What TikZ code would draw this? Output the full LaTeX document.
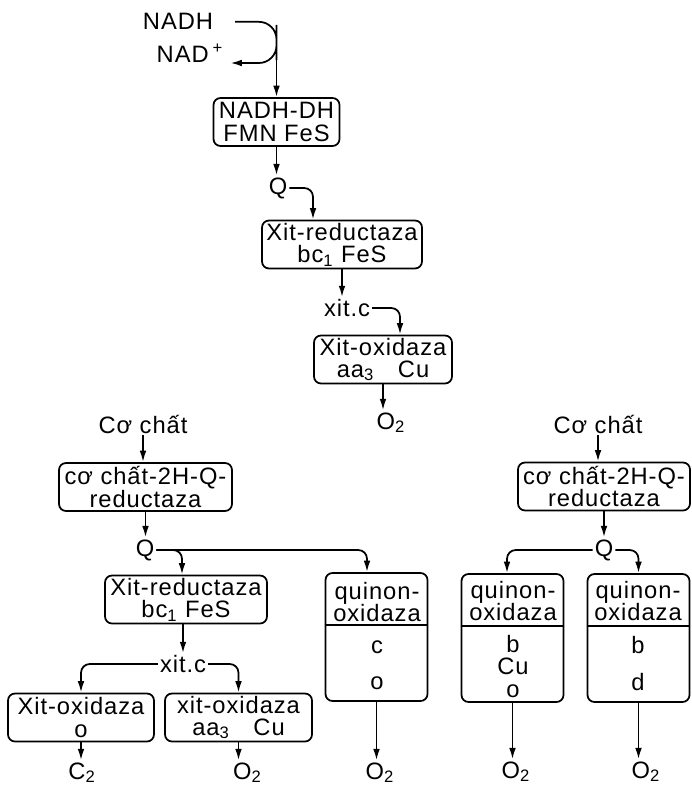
\documentclass[tikz,border=0pt]{standalone}
\usepackage{fontspec}
\setmainfont{Liberation Sans}[LetterSpace=4]
\usetikzlibrary{arrows.meta, positioning}

\begin{document}
\begin{tikzpicture}[
  >=Latex,
  every node/.style={font=\fontsize{13.5}{12.6}\selectfont, inner sep=1pt},
  enzblock/.style={draw, rounded corners=4pt, align=center, line width=1pt,
                   minimum height=0.96cm},
  qoxframe/.style={draw, rounded corners=4pt, line width=1pt,
                   minimum width=2.04cm, minimum height=2.56cm},
  qoxtext/.style={align=center},
  arr/.style={-{Latex[length=6.5pt,width=3.8pt]}, line width=1pt, rounded corners=5pt},
  lin/.style={line width=1pt},
]
\useasboundingbox (0,0) rectangle (13.82,-15.74);

%% ── Mitochondrial chain ─────────────────────────────────────────────────────
\node[anchor=base] (nadh) at (3.56,-0.60) {NADH};
\node[anchor=base] (nad)  at (3.80,-1.26) {NAD\,\textsuperscript{+}};
\node[enzblock, minimum width=2.52cm] (dh) at (5.53,-2.44) {NADH-DH\\FMN FeS};
\node (qa) at (5.56,-3.76) {Q};
\node[enzblock, minimum width=3.2cm] (redA) at (6.84,-4.89)
  {Xit-reductaza\\bc\textsubscript{1} FeS};
\node (xcA) at (6.94,-6.16) {xit.c};
\node[enzblock, minimum width=2.76cm] (oxA) at (7.66,-7.19)
  {Xit-oxidaza\\aa\textsubscript{3}\quad Cu};
\node[anchor=base] (o2A) at (7.82,-8.58) {O\textsubscript{2}};

\coordinate (loop) at (5.53,-0.85);
\coordinate (dhin) at (5.53,-0.64);

%% ── Left branch ─────────────────────────────────────────────────────────────
\node[anchor=base] (subA) at (2.86,-8.66) {Cơ chất};
\node[enzblock, minimum width=3.46cm] (redQA) at (2.91,-9.74)
  {cơ chất-2H-Q-\\reductaza};
\node (qb) at (2.90,-11.0) {Q};
\node[enzblock, minimum width=3.24cm] (redB) at (3.72,-11.99)
  {Xit-reductaza\\bc\textsubscript{1} FeS};
\node (xcB) at (3.66,-13.28) {xit.c};
\node[enzblock, minimum width=2.92cm] (oxB) at (1.62,-14.35) {Xit-oxidaza\\o};
\node[enzblock, minimum width=2.94cm] (oxC) at (4.77,-14.35)
  {xit-oxidaza\\aa\textsubscript{3}\quad Cu};
\node[anchor=base] (c2)  at (1.64,-15.58) {C\textsubscript{2}};
\node[anchor=base] (o2B) at (4.95,-15.58) {O\textsubscript{2}};

\node[qoxframe] (qoxA) at (7.53,-12.74) {};
\node[qoxtext] (qoxAhead) at (7.54,-12.04) {quinon-\\oxidaza};
\node[qoxtext] (qoxAbody) at (7.54,-13.31) {c\\[8pt]o};
\node[anchor=base] (o2C) at (7.60,-15.58) {O\textsubscript{2}};

%% ── Right branch ────────────────────────────────────────────────────────────
\node[anchor=base] (subB) at (11.96,-8.66) {Cơ chất};
\node[enzblock, minimum width=3.44cm] (redQB) at (12.08,-9.73)
  {cơ chất-2H-Q-\\reductaza};
\node (qc) at (12.08,-11.0) {Q};

\node[qoxframe] (qoxB) at (10.25,-12.76) {};
\node[qoxtext] (qoxBhead) at (10.26,-12.02) {quinon-\\oxidaza};
\node[qoxtext] (qoxBbody) at (10.26,-13.33) {b\\Cu\\o};
\node[qoxframe] (qoxC) at (12.77,-12.76) {};
\node[qoxtext] (qoxChead) at (12.76,-12.02) {quinon-\\oxidaza};
\node[qoxtext] (qoxCbody) at (12.76,-13.27) {b\\[9pt]d};
\node[anchor=base] (o2D) at (10.32,-15.56) {O\textsubscript{2}};
\node[anchor=base] (o2E) at (12.92,-15.56) {O\textsubscript{2}};

\foreach \b in {qoxA,qoxB,qoxC}
  \draw[lin] ([yshift=-1.05cm]\b.north west) -- ([yshift=-1.05cm]\b.north east);

%% ── Arrows ──────────────────────────────────────────────────────────────────
\draw[arr, rounded corners=10pt] ([xshift=0.4cm]nadh.east) -| (loop)
  |- ([xshift=0.1cm]nad.base east);
\draw[arr] (dhin) -- (dh.north);
\draw[arr] (dh.south) -- (dh.south |- qa.north);
\draw[arr] (qa.east) -| ([xshift=-0.58cm]redA.north);
\draw[arr] (redA.south) -- (redA.south |- xcA.north);
\draw[arr] (xcA.east) -| ([xshift=0.34cm]oxA.north);
\draw[arr] (oxA.south) -- (oxA.south |- o2A.north);

\draw[arr] (subA.south) -- (subA.south |- redQA.north);
\draw[arr] (redQA.south) -- (redQA.south |- qb.north);
\draw[arr] (qb.east) -| ([xshift=-0.08cm]redB.north);
\draw[arr] (qb.east) -| ([xshift=-0.19cm]qoxA.north);
\draw[arr] (xcB.north |- redB.south) -- (xcB.north);
\draw[arr] (xcB.west) -| (oxB.north);
\draw[arr] (xcB.east) -| (oxC.north);
\draw[arr] (oxB.south) -- (oxB.south |- c2.north);
\draw[arr] (oxC.south) -- (oxC.south |- o2B.north);
\draw[arr] (qoxA.south) -- (qoxA.south |- o2C.north);

\draw[arr] (subB.south) -- (subB.south |- redQB.north);
\draw[arr] (redQB.south) -- (redQB.south |- qc.north);
\draw[arr] (qc.west) -| ([xshift=-0.11cm]qoxB.north);
\draw[arr] (qc.east) -| (qoxC.north);
\draw[arr] (qoxB.south) -- (qoxB.south |- o2D.north);
\draw[arr] (qoxC.south) -- (qoxC.south |- o2E.north);

\end{tikzpicture}
\end{document}
